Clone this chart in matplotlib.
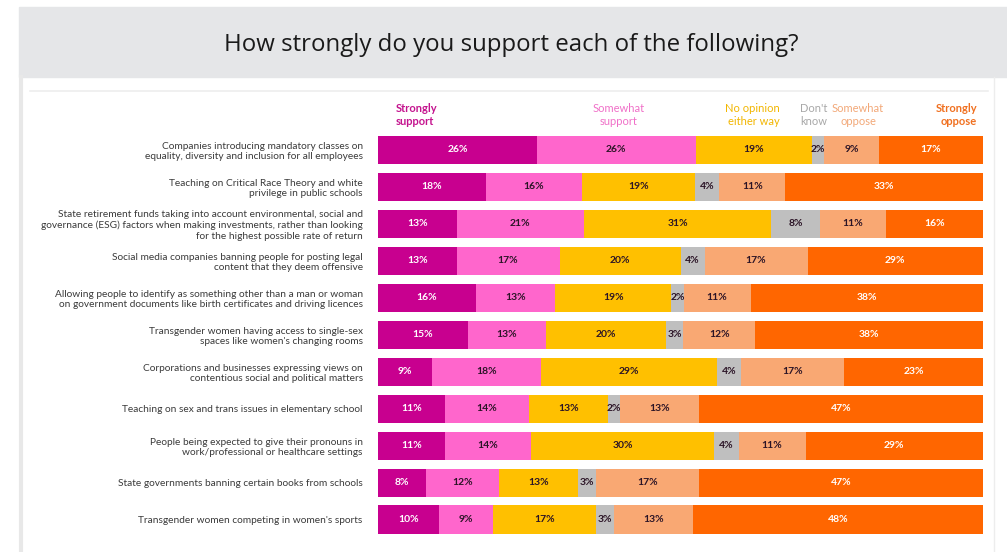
import numpy as np
import matplotlib
matplotlib.use("Agg")
import matplotlib.pyplot as plt
from matplotlib.patches import Rectangle
from matplotlib.lines import Line2D

W, H = 1007, 552

statements = [
    "Companies introducing mandatory classes on\nequality, diversity and inclusion for all employees",
    "Teaching on Critical Race Theory and white\nprivilege in public schools",
    "State retirement funds taking into account environmental, social and\n"
    "governance (ESG) factors when making investments, rather than looking\n"
    "for the highest possible rate of return",
    "Social media companies banning people for posting legal\ncontent that they deem offensive",
    "Allowing people to identify as something other than a man or woman\n"
    "on government documents like birth certificates and driving licences",
    "Transgender women having access to single-sex\nspaces like women's changing rooms",
    "Corporations and businesses expressing views on\ncontentious social and political matters",
    "Teaching on sex and trans issues in elementary school",
    "People being expected to give their pronouns in\nwork/professional or healthcare settings",
    "State governments banning certain books from schools",
    "Transgender women competing in women's sports",
]

responses = ["Strongly\nsupport", "Somewhat\nsupport", "No opinion\neither way",
             "Don't\nknow", "Somewhat\noppose", "Strongly\noppose"]

strongly_support = [26, 18, 13, 13, 16, 15, 9, 11, 11, 8, 10]
somewhat_support = [26, 16, 21, 17, 13, 13, 18, 14, 14, 12, 9]
no_opinion = [19, 19, 31, 20, 19, 20, 29, 13, 30, 13, 17]
dont_know = [2, 4, 8, 4, 2, 3, 4, 2, 4, 3, 3]
somewhat_oppose = [9, 11, 11, 17, 11, 12, 17, 13, 11, 17, 13]
strongly_oppose = [17, 33, 16, 29, 38, 38, 23, 47, 29, 47, 48]

bar_colors = ["#C8008F", "#FF66CC", "#FFC000", "#BFBFBF", "#F9A873", "#FF6600"]
head_colors = ["#C4148E", "#F070C8", "#F2B600", "#A8A8A8", "#F2A878", "#F07020"]
value_colors = ["white", "#2b1426", "#2b1426", "#2b1426", "#2b1426", "white"]


def fx(px):
    return px / W


def fy(py):
    return 1 - py / H


fig = plt.figure(figsize=(W / 100, H / 100), dpi=100)
fig.patch.set_facecolor("white")

# grey title band and panel edges
fig.patches.append(Rectangle((fx(19), fy(77)), 1 - fx(19), fy(7) - fy(77),
                             transform=fig.transFigure, color="#E5E6E8", zorder=0))
fig.lines.append(Line2D([fx(20.5), fx(20.5)], [fy(77), 0], transform=fig.transFigure,
                        color="#E8E8E8", lw=3))
fig.lines.append(Line2D([fx(994), fx(994)], [fy(77), 0], transform=fig.transFigure,
                        color="#EDEDED", lw=1))
fig.lines.append(Line2D([fx(30), fx(988)], [fy(91), fy(91)], transform=fig.transFigure,
                        color="#EEEEEE", lw=1.2))
fig.text(fx(511), fy(45), "How strongly do you support each of the following?",
         ha="center", va="center", fontsize=17.3, family="Open Sans", color="#1a1a1a")

ax = fig.add_axes([fx(378), fy(538), fx(983) - fx(378), fy(131.5) - fy(538)])

table = np.array([strongly_support, somewhat_support, no_opinion,
                  dont_know, somewhat_oppose, strongly_oppose], dtype=float)
shares = table / table.sum(axis=0) * 100
y = np.arange(len(statements))
left = np.zeros(len(statements))
for k in range(len(responses)):
    ax.barh(y, shares[k], left=left, height=0.76, color=bar_colors[k], linewidth=0)
    for i in range(len(statements)):
        ax.text(left[i] + shares[k][i] / 2, y[i], "%d%%" % table[k][i],
                ha="center", va="center", fontsize=7.5, fontweight="bold",
                family="Lato", color=value_colors[k])
    left += shares[k]

ax.set_xlim(0, 100)
ax.set_ylim(len(statements) - 0.5, -0.5)
ax.set_xticks([])
ax.set_yticks(y)
ax.set_yticklabels(statements, fontsize=7.3, family="Lato", color="#3a3a3a",
                   linespacing=1.2)
ax.tick_params(axis="y", length=0, pad=11)
for s in ax.spines.values():
    s.set_visible(False)

# response headings above the bars
head_pos = [(396, "left"), (619, "center"), (780, "right"),
            (800, "left"), (858, "center"), (977, "right")]
for k, (px, ha) in enumerate(head_pos):
    fig.text(fx(px), fy(115), responses[k], ha=ha, va="center", fontsize=8,
             fontweight="bold" if k in (0, 5) else "normal", family="Lato",
             color=head_colors[k], linespacing=1.25, multialignment=ha)

fig.savefig("out.png", dpi=100)
